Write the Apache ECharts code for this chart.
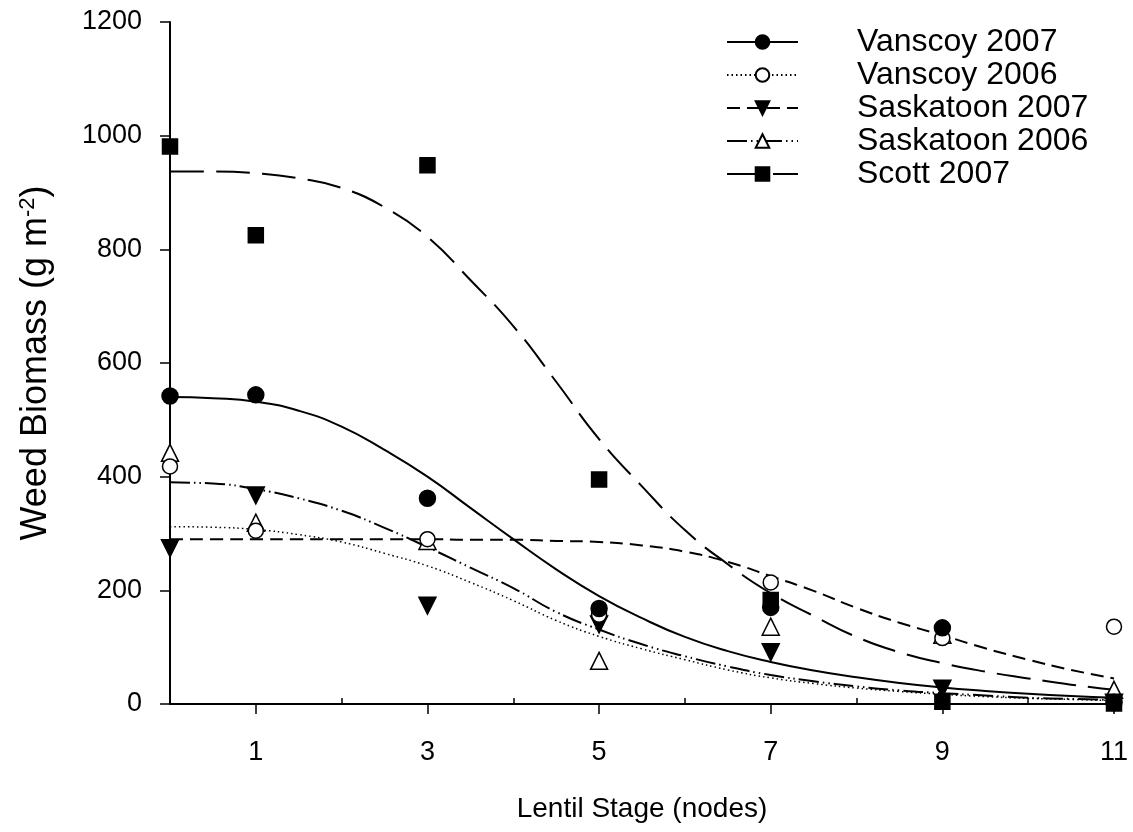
<!DOCTYPE html>
<html>
<head>
<meta charset="utf-8">
<script src="https://cdn.jsdelivr.net/npm/echarts@6/dist/echarts.min.js"></script>
<style>
html,body{margin:0;padding:0;background:#fff;}
#chart{width:1133px;height:832px;}
</style>
</head>
<body>
<div id="chart"></div>
<script>
// ---- Data ----
const seriesNames = ['Vanscoy 2007', 'Vanscoy 2006', 'Saskatoon 2007', 'Saskatoon 2006', 'Scott 2007'];
const stages = [0, 1, 3, 5, 7, 9, 11];
const obsVanscoy2007 = [542, 544, 362, 168, 170, 134, 3];
const obsVanscoy2006 = [418, 305, 290, 157, 214, 116, 136];
const obsSaskatoon2007 = [274, 367, 173, 140, 91, 27, 2];
const obsSaskatoon2006 = [442, 319, 287, 76, 136, 122, 25];
const obsScott2007 = [981, 825, 948, 395, 183, 4, 1];

const curveX = [0, 0.5, 1, 1.5, 2, 2.5, 3, 3.5, 4, 4.5, 5, 5.5, 6, 6.5, 7, 7.5, 8, 8.5, 9, 9.5, 10, 10.5, 11];
const fitVanscoy2007 = [540, 538, 532, 516, 488, 447, 400, 345, 290, 237, 190, 151, 118, 93, 74, 59, 47, 37, 29, 23, 18, 14, 11];
const fitVanscoy2006 = [312, 311, 307, 298, 285, 265, 243, 214, 182, 147, 119, 97, 78, 60, 46, 36, 28, 22, 17, 13, 10, 8, 6];
const fitSaskatoon2007 = [290, 290, 290, 290, 290, 290, 290, 289, 289, 287, 285, 279, 268, 250, 225, 199, 169, 143, 121, 98, 78, 60, 45];
const fitSaskatoon2006 = [390, 388, 378, 362, 340, 310, 276, 240, 204, 162, 131, 105, 84, 66, 51, 40, 31, 24, 19, 15, 11, 9, 7];
const fitScott2007 = [937, 937, 934, 925, 908, 874, 822, 746, 665, 567, 466, 383, 306, 246, 195, 155, 118, 91, 72, 57, 45, 34, 25];

const yTickLabels = ['0', '200', '400', '600', '800', '1000', '1200'];
const majorXTicks = [1, 3, 5, 7, 9, 11];
const minorXTicks = [2, 4, 6, 8, 10];

// ---- Build ----
const FONT = '"Liberation Sans", Arial, sans-serif';
const pair = (xs, ys) => xs.map((x, i) => [x, ys[i]]);

const styles = [
  {symbol: 'circle', size: 16, rotate: 0, fill: '#000', dash: 'solid', width: 2},
  {symbol: 'circle', size: 15, rotate: 0, fill: '#fff', dash: [1.5, 3], width: 1.5},
  {symbol: 'triangle', size: 17, rotate: 180, fill: '#000', dash: [13, 7], width: 2},
  {symbol: 'triangle', size: 17, rotate: 0, fill: '#fff', dash: [20, 4, 1.5, 4, 1.5, 4], width: 2},
  {symbol: 'rect', size: 15, rotate: 0, fill: '#000', dash: [34, 12], width: 2}
];
const fits = [fitVanscoy2007, fitVanscoy2006, fitSaskatoon2007, fitSaskatoon2006, fitScott2007];
const obs = [obsVanscoy2007, obsVanscoy2006, obsSaskatoon2007, obsSaskatoon2006, obsScott2007];

const series = [];
seriesNames.forEach((name, i) => {
  const s = styles[i];
  series.push({
    name: name,
    type: 'line',
    data: pair(curveX, fits[i]),
    smooth: true,
    showSymbol: false,
    symbol: s.symbol,
    symbolSize: s.size,
    symbolRotate: s.rotate,
    itemStyle: {color: s.fill, borderColor: '#000', borderWidth: 1.5},
    lineStyle: {color: '#000', width: s.width, type: s.dash},
    silent: true,
    z: 2
  });
});
seriesNames.forEach((name, i) => {
  const s = styles[i];
  series.push({
    name: name,
    type: 'scatter',
    data: pair(stages, obs[i]),
    symbol: s.symbol,
    symbolSize: s.size,
    symbolRotate: s.rotate,
    itemStyle: {color: s.fill, borderColor: '#000', borderWidth: 1.5, opacity: 1},
    z: 3 + (4 - i)
  });
});

const chart = echarts.init(document.getElementById('chart'), null, {renderer: 'canvas'});
chart.setOption({
  animation: false,
  backgroundColor: '#fff',
  grid: {left: 170, right: 19, top: 22, bottom: 128, containLabel: false},
  legend: {
    data: seriesNames,
    orient: 'vertical',
    left: 721,
    top: 21,
    itemWidth: 71,
    itemHeight: 17,
    itemGap: 1,
    textStyle: {fontFamily: FONT, fontSize: 32, color: '#000', padding: [0, 0, 0, 54]},
    selectedMode: false
  },
  xAxis: [{
    type: 'value',
    min: 0, max: 11,
    position: 'bottom',
    name: 'Lentil Stage (nodes)',
    nameLocation: 'middle',
    nameGap: 91,
    nameTextStyle: {fontFamily: FONT, fontSize: 28, color: '#000'},
    axisLine: {show: true, onZero: false, lineStyle: {color: '#000', width: 2}},
    axisTick: {show: true, inside: false, length: 10, customValues: majorXTicks, lineStyle: {color: '#000', width: 1.5}},
    axisLabel: {show: true, customValues: majorXTicks, margin: 35, fontFamily: FONT, fontSize: 27, color: '#000'},
    splitLine: {show: false}
  }, {
    type: 'value',
    min: 0, max: 11,
    position: 'bottom',
    axisLine: {show: false, onZero: false},
    axisTick: {show: true, inside: true, length: 6, customValues: minorXTicks, lineStyle: {color: '#000', width: 1.5}},
    axisLabel: {show: false},
    splitLine: {show: false}
  }],
  yAxis: {
    type: 'value',
    min: 0, max: 1200, interval: 200,
    name: '{t|Weed Biomass (g m}{s|-2}{t|)}',
    nameLocation: 'middle',
    nameGap: 114,
    nameRotate: 90,
    nameTextStyle: {
      color: '#000',
      rich: {
        t: {fontFamily: FONT, fontSize: 36, color: '#000'},
        s: {fontFamily: FONT, fontSize: 22, color: '#000', verticalAlign: 'top', padding: [0, 0, 17, 0]}
      }
    },
    axisLine: {show: true, onZero: false, lineStyle: {color: '#000', width: 2}},
    axisTick: {show: true, inside: false, length: 10, lineStyle: {color: '#000', width: 1.5}},
    axisLabel: {
      margin: 28, fontFamily: FONT, fontSize: 27, color: '#000',
      formatter: (v) => yTickLabels[Math.round(v / 200)]
    },
    splitLine: {show: false}
  },
  series: series
});
</script>
</body>
</html>
